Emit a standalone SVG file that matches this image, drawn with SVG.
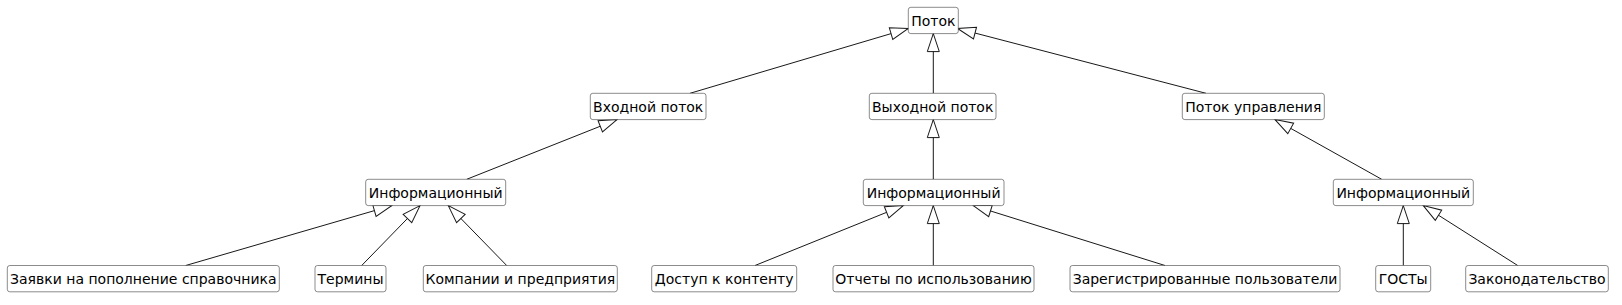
<svg xmlns="http://www.w3.org/2000/svg" width="1622" height="305" viewBox="0 0 1622 305">
<style>
.box{fill:#ffffff;stroke:#181818;stroke-width:0.5}
.lbl{font-family:"DejaVu Sans",sans-serif;font-size:14px;fill:#000000;text-anchor:middle}
.edge{stroke:#181818;stroke-width:1;fill:none;marker-end:url(#gen)}
</style>
<defs>
<marker id="gen" markerUnits="userSpaceOnUse" orient="auto" refX="0" refY="0" markerWidth="20" markerHeight="14" overflow="visible">
<path d="M0,0 L-18,-6 L-18,6 Z" fill="#ffffff" stroke="#181818" stroke-width="1"/>
</marker>
</defs>
<rect width="1622" height="305" fill="#ffffff"/>
<g id="connectors">
<path class="edge" d="M690,93.3 L908.3,28.5"/>
<path class="edge" d="M933.3,93.3 L933.3,33.6"/>
<path class="edge" d="M1206,93.3 L957.6,28.5"/>
<path class="edge" d="M466.7,179.3 L617,119.6"/>
<path class="edge" d="M933.3,179.3 L933.3,119.6"/>
<path class="edge" d="M1381.7,179.3 L1275,119.6"/>
<path class="edge" d="M185.7,265.5 L391.7,205.6"/>
<path class="edge" d="M361.7,265.5 L420,205.6"/>
<path class="edge" d="M506.7,265.5 L448.3,205.6"/>
<path class="edge" d="M755,265.5 L903.3,205.6"/>
<path class="edge" d="M933.3,265.5 L933.3,205.6"/>
<path class="edge" d="M1165,265.5 L973.3,205.6"/>
<path class="edge" d="M1403.3,265.5 L1403.3,205.6"/>
<path class="edge" d="M1517.7,265.5 L1423.3,205.6"/>
</g>
<g id="potok"><rect class="box" x="908.3" y="7.3" width="50" height="26.3" rx="2.5"/><text class="lbl" x="933.3" y="25.5">Поток</text></g>
<g id="vhod"><rect class="box" x="590.3" y="93.3" width="115.7" height="26.3" rx="2.5"/><text class="lbl" x="648.2" y="111.5">Входной поток</text></g>
<g id="vyhod"><rect class="box" x="869.3" y="93.3" width="126.7" height="26.3" rx="2.5"/><text class="lbl" x="932.7" y="111.5">Выходной поток</text></g>
<g id="upr"><rect class="box" x="1182.3" y="93.3" width="142" height="26.3" rx="2.5"/><text class="lbl" x="1253.3" y="111.5">Поток управления</text></g>
<g id="info1"><rect class="box" x="365.7" y="179.3" width="140" height="26.3" rx="2.5"/><text class="lbl" x="435.7" y="197.5">Информационный</text></g>
<g id="info2"><rect class="box" x="863.3" y="179.3" width="140.7" height="26.3" rx="2.5"/><text class="lbl" x="933.6" y="197.5">Информационный</text></g>
<g id="info3"><rect class="box" x="1333.3" y="179.3" width="140" height="26.3" rx="2.5"/><text class="lbl" x="1403.3" y="197.5">Информационный</text></g>
<g id="zayavki"><rect class="box" x="7.3" y="265.5" width="272" height="26.3" rx="2.5"/><text class="lbl" x="143.3" y="283.7">Заявки на пополнение справочника</text></g>
<g id="terminy"><rect class="box" x="315" y="265.5" width="71" height="26.3" rx="2.5"/><text class="lbl" x="350.5" y="283.7">Термины</text></g>
<g id="kompanii"><rect class="box" x="423.3" y="265.5" width="194" height="26.3" rx="2.5"/><text class="lbl" x="520.3" y="283.7">Компании и предприятия</text></g>
<g id="dostup"><rect class="box" x="651.7" y="265.5" width="145" height="26.3" rx="2.5"/><text class="lbl" x="724.2" y="283.7">Доступ к контенту</text></g>
<g id="otchety"><rect class="box" x="833" y="265.5" width="201" height="26.3" rx="2.5"/><text class="lbl" x="933.5" y="283.7">Отчеты по использованию</text></g>
<g id="zareg"><rect class="box" x="1070" y="265.5" width="270" height="26.3" rx="2.5"/><text class="lbl" x="1205" y="283.7">Зарегистрированные пользователи</text></g>
<g id="gosty"><rect class="box" x="1375.7" y="265.5" width="55" height="26.3" rx="2.5"/><text class="lbl" x="1403.2" y="283.7">ГОСТы</text></g>
<g id="zakon"><rect class="box" x="1465.7" y="265.5" width="142.6" height="26.3" rx="2.5"/><text class="lbl" x="1537" y="283.7">Законодательство</text></g>
</svg>
